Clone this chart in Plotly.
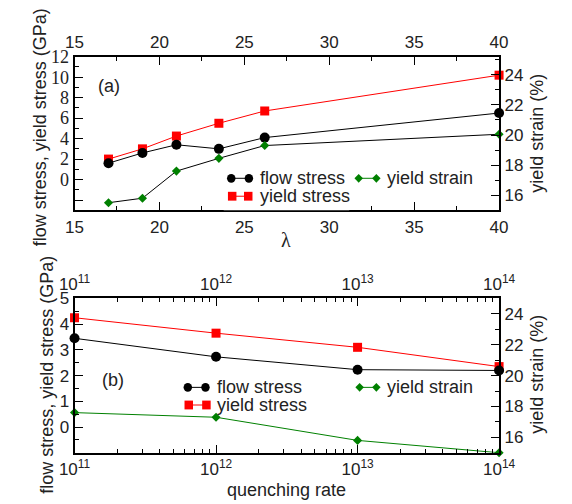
import plotly.graph_objects as go

# ---- data: panel (a), aspect ratio lambda ----
lam = [17, 19, 21, 23.5, 26.2, 40]
flow_a = [1.6, 2.6, 3.4, 3.0, 4.1, 6.5]
yield_a = [2.0, 3.0, 4.25, 5.5, 6.7, 10.2]
strain_a = [15.5, 15.8, 17.6, 18.45, 19.3, 20.05]

# ---- data: panel (b), quenching rate ----
rate = [1e11, 1e12, 1e13, 1e14]
flow_b = [3.45, 2.73, 2.23, 2.2]
yield_b = [4.25, 3.65, 3.1, 2.35]
strain_b = [17.6, 17.3, 15.8, 15.0]

lam_ticks = [15, 20, 25, 30, 35, 40]
stress_ticks_a = [-2, 0, 2, 4, 6, 8, 10, 12]
stress_text_a = ["", "0", "2", "4", "6", "8", "10", "12"]
stress_ticks_b = [0, 1, 2, 3, 4, 5]
strain_ticks = [16, 18, 20, 22, 24]
rate_ticks = [1e11, 1e12, 1e13, 1e14]
rate_text = ["10<sup>11</sup>", "10<sup>12</sup>", "10<sup>13</sup>", "10<sup>14</sup>"]

W, H = 572, 504
BLACK, RED, GREEN = "#000000", "#ff0000", "#008000"
SANS = "Liberation Sans, Arial, sans-serif"
SERIF = "Liberation Serif, Times New Roman, serif"


def px(x):
    return x / W


def py(y):
    return 1 - y / H


X_DOM = [px(62), px(511.7)]
A_DOM = [py(204.3), py(47.7)]
B_DOM = [py(451.7), py(294.3)]

fig = go.Figure()

# panel (a)
fig.add_trace(go.Scatter(x=lam, y=strain_a, xaxis="x", yaxis="y2", mode="lines+markers",
                         line=dict(color=BLACK, width=1),
                         marker=dict(symbol="diamond", size=7, color=GREEN),
                         cliponaxis=False, showlegend=False, name="yield strain"))
fig.add_trace(go.Scatter(x=lam, y=yield_a, xaxis="x", yaxis="y", mode="lines+markers",
                         line=dict(color=RED, width=1),
                         marker=dict(symbol="square", size=9, color=RED),
                         cliponaxis=False, showlegend=False, name="yield stress"))
fig.add_trace(go.Scatter(x=lam, y=flow_a, xaxis="x", yaxis="y", mode="lines+markers",
                         line=dict(color=BLACK, width=1),
                         marker=dict(symbol="circle", size=10, color=BLACK),
                         cliponaxis=False, showlegend=False, name="flow stress"))
# attaches the top lambda axis so that it is drawn
fig.add_trace(go.Scatter(x=lam, y=flow_a, xaxis="x2", yaxis="y", mode="none",
                         hoverinfo="skip", showlegend=False))

# panel (b)
fig.add_trace(go.Scatter(x=rate, y=strain_b, xaxis="x3", yaxis="y4", mode="lines+markers",
                         line=dict(color=GREEN, width=1),
                         marker=dict(symbol="diamond", size=7, color=GREEN),
                         cliponaxis=False, showlegend=False, name="yield strain"))
fig.add_trace(go.Scatter(x=rate, y=yield_b, xaxis="x3", yaxis="y3", mode="lines+markers",
                         line=dict(color=RED, width=1),
                         marker=dict(symbol="square", size=9, color=RED),
                         cliponaxis=False, showlegend=False, name="yield stress"))
fig.add_trace(go.Scatter(x=rate, y=flow_b, xaxis="x3", yaxis="y3", mode="lines+markers",
                         line=dict(color=BLACK, width=1),
                         marker=dict(symbol="circle", size=10, color=BLACK),
                         cliponaxis=False, showlegend=False, name="flow stress"))
# attaches the top quenching-rate axis so that it is drawn
fig.add_trace(go.Scatter(x=rate, y=flow_b, xaxis="x4", yaxis="y3", mode="none",
                         hoverinfo="skip", showlegend=False))

axis_common = dict(showline=True, linecolor=BLACK, linewidth=2, ticks="inside",
                   ticklen=8, tickwidth=1.2, tickcolor=BLACK, showgrid=False,
                   zeroline=False, tickfont=dict(family=SANS, size=17, color="#222"))
minor_common = dict(ticks="inside", ticklen=4, tickwidth=1, tickcolor=BLACK, showgrid=False)

fig.update_layout(
    width=W, height=H, margin=dict(l=0, r=0, t=0, b=0),
    paper_bgcolor="white", plot_bgcolor="white", showlegend=False,
    xaxis=dict(axis_common, domain=X_DOM, anchor="y", range=[15, 40],
               tickvals=lam_ticks, minor=dict(minor_common, dtick=2.5)),
    xaxis2=dict(axis_common, overlaying="x", side="top", anchor="y", range=[15, 40],
                tickvals=lam_ticks, minor=dict(minor_common, dtick=2.5)),
    yaxis=dict(axis_common, domain=A_DOM, anchor="x", range=[-3, 12],
               tickvals=stress_ticks_a, ticktext=stress_text_a,
               tickfont=dict(family=SERIF, size=18, color="#222"),
               minor=dict(minor_common, dtick=1)),
    yaxis2=dict(axis_common, overlaying="y", side="right", anchor="x", range=[15, 25.2],
                tickvals=strain_ticks, minor=dict(minor_common, dtick=1)),
    xaxis3=dict(axis_common, domain=X_DOM, anchor="y3", type="log", range=[11, 14],
                tickvals=rate_ticks, ticktext=rate_text,
                minor=dict(minor_common, dtick="D1")),
    xaxis4=dict(axis_common, overlaying="x3", side="top", anchor="y3", type="log",
                range=[11, 14], tickvals=rate_ticks, ticktext=rate_text,
                minor=dict(minor_common, dtick="D1")),
    yaxis3=dict(axis_common, domain=B_DOM, anchor="x3", range=[-1, 5],
                tickvals=stress_ticks_b, minor=dict(minor_common, dtick=0.5)),
    yaxis4=dict(axis_common, overlaying="y3", side="right", anchor="x3", range=[15, 25],
                tickvals=strain_ticks, minor=dict(minor_common, dtick=1)),
)

annotations = []
shapes = []


def text(x, y, s, size=18, angle=0, xanchor="center", family=SANS):
    annotations.append(dict(x=px(x), y=py(y), xref="paper", yref="paper", text=s,
                            showarrow=False, textangle=angle, xanchor=xanchor,
                            yanchor="middle", font=dict(family=family, size=size, color="#222")))


# axis titles
text(25, 120, "flow stress, yield stress (GPa)", angle=-90)
text(32, 372, "flow stress, yield stress (GPa)", angle=-90)
text(551, 126, "yield strain (%)", angle=-90)
text(552, 372, "yield strain (%)", angle=-90)
text(286, 235, "λ", family=SERIF, size=20)
text(286, 490, "quenching rate")
text(99, 78, "(a)")
text(103, 377, "(b)")

# white legend box in panel (a)
shapes.append(dict(type="rect", xref="paper", yref="paper", x0=px(220), x1=px(353),
                   y0=py(204.3), y1=py(160), fillcolor="white", line=dict(width=0),
                   layer="above"))


def sample(x0, x1, y, symbol, color, line_color):
    shapes.append(dict(type="line", xref="paper", yref="paper", x0=px(x0), x1=px(x1),
                       y0=py(y), y1=py(y), line=dict(color=line_color, width=1), layer="above"))
    for xc in (x0, x1):
        if symbol == "circle":
            r = 4.5
            shapes.append(dict(type="circle", xref="paper", yref="paper",
                               x0=px(xc - r), x1=px(xc + r), y0=py(y + r), y1=py(y - r),
                               fillcolor=color, line=dict(width=0), layer="above"))
        elif symbol == "square":
            r = 4.5
            shapes.append(dict(type="rect", xref="paper", yref="paper",
                               x0=px(xc - r), x1=px(xc + r), y0=py(y + r), y1=py(y - r),
                               fillcolor=color, line=dict(width=0), layer="above"))
        else:
            r = 4.5
            path = (f"M {px(xc - r)} {py(y)} L {px(xc)} {py(y - r)} "
                    f"L {px(xc + r)} {py(y)} L {px(xc)} {py(y + r)} Z")
            shapes.append(dict(type="path", xref="paper", yref="paper", path=path,
                               fillcolor=color, line=dict(width=0), layer="above"))


# legend, panel (a)
sample(228, 246.7, 171.7, "circle", BLACK, BLACK)
text(256, 171.7, "flow stress", xanchor="left")
sample(229, 246, 190, "square", RED, RED)
text(256, 190, "yield stress", xanchor="left")
sample(363, 381.7, 171.7, "diamond", GREEN, GREEN)
text(391, 171.7, "yield strain", xanchor="left")

# legend, panel (b)
sample(182, 200.7, 385, "circle", BLACK, BLACK)
text(210.5, 385, "flow stress", xanchor="left")
sample(183, 201.7, 403, "square", RED, RED)
text(210.5, 403, "yield stress", xanchor="left")
sample(364, 381.7, 385, "diamond", GREEN, GREEN)
text(391, 385, "yield strain", xanchor="left")

fig.update_layout(annotations=annotations, shapes=shapes)
fig.write_html("out.html")
